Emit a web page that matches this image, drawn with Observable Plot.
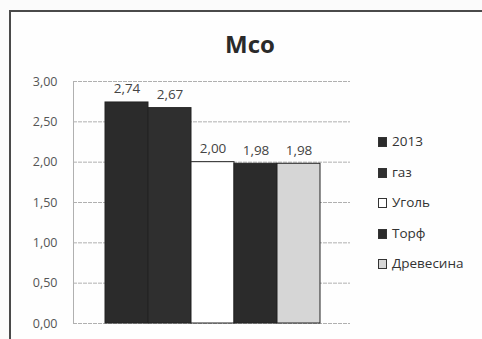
<!DOCTYPE html>
<html>
<head>
<meta charset="utf-8">
<script src="https://cdn.jsdelivr.net/npm/d3@7"></script>
<script src="https://cdn.jsdelivr.net/npm/@observablehq/plot@0.6"></script>
<style>
  html, body { margin: 0; padding: 0; background: #fbfbfb; }
  #wrap { position: relative; width: 482px; height: 339px; overflow: hidden; font-family: "Open Sans", "DejaVu Sans", sans-serif; }
  #frame { position: absolute; left: 9px; top: 10px; width: 500px; height: 400px; border-left: 2px solid #4a4a4a; border-top: 2px solid #4a4a4a; background: #fefefe; }
  #title { position: absolute; left: 0; width: 500px; top: 27px; text-align: center; font-size: 24px; font-weight: bold; color: #2a2a2a; }
  #chart { position: absolute; left: 0; top: 0; }
  #legend { position: absolute; left: 378px; top: 132px; font-size: 13.5px; color: #333; }
  .item { height: 30.5px; display: flex; align-items: flex-start; }
  .sw { width: 9px; height: 10px; margin-right: 5px; margin-top: 5px; box-sizing: border-box; border: 1px solid #333; }
</style>
</head>
<body>
<div id="wrap">
  <div id="frame"></div>
  <div id="title">Мсо</div>
  <div id="chart"></div>
  <div id="legend"></div>
</div>
<script>
const categories = ["2013", "газ", "Уголь", "Торф", "Древесина"];
const values = [2.74, 2.67, 2.00, 1.98, 1.98];
const colors = ["#2b2b2b", "#2f2f2f", "#ffffff", "#2b2b2b", "#d6d6d6"];
const yTicks = [0, 0.5, 1, 1.5, 2, 2.5, 3];

const data = categories.map((c, i) => ({cat: c, value: values[i]}));
const fmt = d => d.toFixed(2).replace(".", ",");

const chart = Plot.plot({
  width: 482,
  height: 339,
  marginTop: 81,
  marginBottom: 16,
  marginLeft: 73,
  marginRight: 132,
  style: {background: "transparent", fontFamily: "'Open Sans', 'DejaVu Sans', sans-serif"},
  x: {type: "band", domain: categories, range: [105, 320], padding: 0, axis: null},
  y: {domain: [0, 3]},
  color: {domain: categories, range: colors},
  marks: [
    Plot.ruleY(yTicks, {stroke: "#b0b0b0", strokeWidth: 1, strokeDasharray: "4,1"}),
    Plot.frame({anchor: "left", stroke: "#b0b0b0", strokeDasharray: "4,1"}),
    Plot.axisY({ticks: yTicks, tickFormat: fmt, tickSize: 0, tickPadding: 16, fontSize: 12.5, fill: "#555", label: null}),
    Plot.barY(data, {x: "cat", y: "value", fill: "cat", stroke: "#222", strokeWidth: 1, inset: 0}),
    Plot.text(data, {x: "cat", y: "value", text: d => fmt(d.value), lineAnchor: "bottom", dy: -9, fontSize: 13.5, fill: "#444"})
  ]
});
document.getElementById("chart").appendChild(chart);

const legend = document.getElementById("legend");
categories.forEach((c, i) => {
  const item = document.createElement("div");
  item.className = "item";
  const sw = document.createElement("div");
  sw.className = "sw";
  sw.style.background = colors[i];
  const lab = document.createElement("span");
  lab.textContent = c;
  item.appendChild(sw);
  item.appendChild(lab);
  legend.appendChild(item);
});
</script>
</body>
</html>
